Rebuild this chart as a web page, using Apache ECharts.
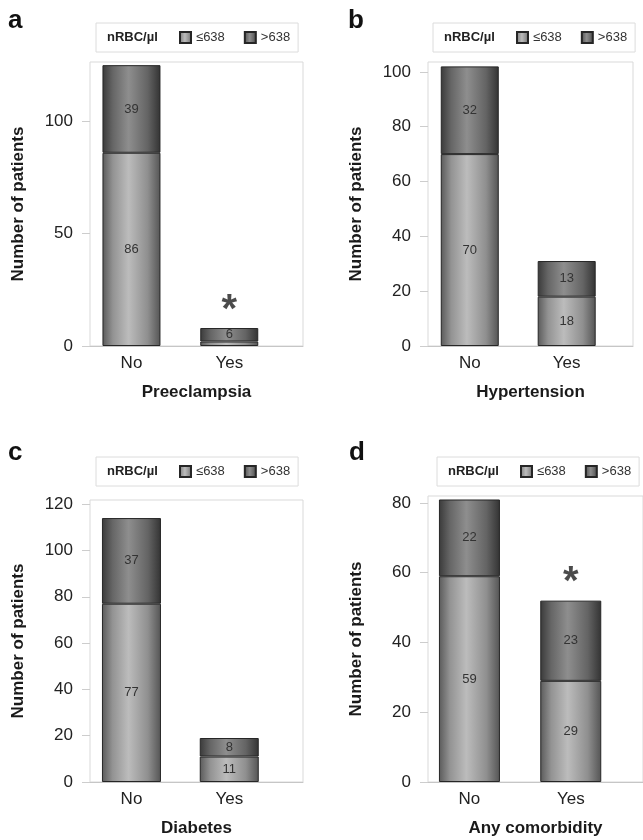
<!DOCTYPE html>
<html><head><meta charset="utf-8">
<script src="https://cdn.jsdelivr.net/npm/echarts@6/dist/echarts.min.js"></script>
<style>html,body{margin:0;padding:0;background:#fff}#c{width:643px;height:840px}</style>
</head><body><div id="c"></div>
<script>
// ---- data ----
const categories = ['No', 'Yes'];
const groupNames = ['≤638', '>638'];
const legendTitle = 'nRBC/µl';
const yAxisTitle = 'Number of patients';
const panelLetters = ['a', 'b', 'c', 'd'];
const panelNames = ['Preeclampsia', 'Hypertension', 'Diabetes', 'Any comorbidity'];

const preeclampsiaLow = [86, 2];
const preeclampsiaHigh = [39, 6];
const hypertensionLow = [70, 18];
const hypertensionHigh = [32, 13];
const diabetesLow = [77, 11];
const diabetesHigh = [37, 8];
const comorbidityLow = [59, 29];
const comorbidityHigh = [22, 23];

const yTicksA = [0, 50, 100];
const yTicksB = [0, 20, 40, 60, 80, 100];
const yTicksC = [0, 20, 40, 60, 80, 100, 120];
const yTicksD = [0, 20, 40, 60, 80];

const sigA = [false, true];
const sigB = [false, false];
const sigC = [false, false];
const sigD = [false, true];

const lowSets = [preeclampsiaLow, hypertensionLow, diabetesLow, comorbidityLow];
const highSets = [preeclampsiaHigh, hypertensionHigh, diabetesHigh, comorbidityHigh];
const tickSets = [yTicksA, yTicksB, yTicksC, yTicksD];
const sigSets = [sigA, sigB, sigC, sigD];

// ---- layout (positions / sizes only) ----
const layout = [
  {left: 90, top: 62, width: 213, height: 284, xMin: -0.424, xMax: 1.754, yMax: 126.4, barWidth: 58, lgLeft: 96, lgTop: 23, letX: 8, letY: 8},
  {left: 428, top: 62, width: 205, height: 284, xMin: -0.431, xMax: 1.684, yMax: 103.6, barWidth: 58, lgLeft: 433, lgTop: 23, letX: 348, letY: 8},
  {left: 90, top: 500, width: 213, height: 282, xMin: -0.424, xMax: 1.754, yMax: 121.8, barWidth: 59, lgLeft: 96, lgTop: 457, letX: 8, letY: 440},
  {left: 428, top: 496, width: 215, height: 286, xMin: -0.409, xMax: 1.713, yMax: 82, barWidth: 61, lgLeft: 437, lgTop: 457, letX: 349, letY: 440}
];

const FONT = 'Liberation Sans, Arial, Helvetica, sans-serif';

const lowFill = {type: 'linear', x: 0, y: 0, x2: 1, y2: 0, colorStops: [
  {offset: 0, color: '#5a5a5a'}, {offset: 0.18, color: '#939393'}, {offset: 0.45, color: '#bcbcbc'},
  {offset: 0.78, color: '#8f8f8f'}, {offset: 1, color: '#545454'}]};
const highFill = {type: 'linear', x: 0, y: 0, x2: 1, y2: 0, colorStops: [
  {offset: 0, color: '#3a3a3a'}, {offset: 0.18, color: '#666666'}, {offset: 0.45, color: '#8e8e8e'},
  {offset: 0.78, color: '#646464'}, {offset: 1, color: '#333333'}]};

const grids = [], xAxes = [], yAxes = [], series = [], legends = [], graphics = [];

layout.forEach((L, p) => {
  grids.push({left: L.left, top: L.top, width: L.width, height: L.height, show: true,
    borderColor: '#d9d9d9', borderWidth: 1, backgroundColor: 'transparent', containLabel: false});
  xAxes.push({type: 'value', gridIndex: p, min: L.xMin, max: L.xMax,
    axisLine: {show: true, onZero: false, lineStyle: {color: '#c6c6c6', width: 1}},
    axisTick: {show: false}, splitLine: {show: false},
    axisLabel: {customValues: categories.map((c, i) => i), formatter: v => categories[Math.round(v)],
      fontSize: 17, color: '#222', fontFamily: FONT, margin: 9},
    name: panelNames[p], nameLocation: 'middle', nameGap: 38,
    nameTextStyle: {fontSize: 17, fontWeight: 'bold', color: '#1a1a1a', fontFamily: FONT}});
  yAxes.push({type: 'value', gridIndex: p, min: 0, max: L.yMax,
    axisLine: {show: false, onZero: false},
    axisTick: {show: true, length: 8, customValues: tickSets[p], lineStyle: {color: '#cdcdcd'}},
    splitLine: {show: false},
    axisLabel: {customValues: tickSets[p], fontSize: 17, color: '#222', fontFamily: FONT, margin: 17},
    name: yAxisTitle, nameLocation: 'middle', nameGap: 63,
    nameTextStyle: {fontSize: 17, fontWeight: 'bold', color: '#1a1a1a', fontFamily: FONT}});

  const low = lowSets[p], high = highSets[p];
  const lbl = {show: true, position: 'inside', fontSize: 13, color: '#333', fontFamily: FONT,
    formatter: prm => (prm.value[0] >= 3 ? String(prm.value[0]) : '')};
  // value first, category index second -> the count dimension is the stacked one
  series.push({name: groupNames[0], type: 'bar', xAxisIndex: p, yAxisIndex: p, stack: 's' + p,
    barWidth: L.barWidth, encode: {x: 1, y: 0}, data: categories.map((c, i) => [low[i], i]),
    itemStyle: {color: lowFill, borderColor: '#262626', borderWidth: 1}, label: lbl});
  series.push({name: groupNames[1], type: 'bar', xAxisIndex: p, yAxisIndex: p, stack: 's' + p,
    barWidth: L.barWidth, encode: {x: 1, y: 0}, data: categories.map((c, i) => [high[i], i]),
    itemStyle: {color: highFill, borderColor: '#262626', borderWidth: 1}, label: lbl});
  const sigData = categories.map((c, i) => sigSets[p][i] ? [i, low[i] + high[i]] : null).filter(d => d);
  if (sigData.length) {
    series.push({name: 'sig' + p, type: 'scatter', xAxisIndex: p, yAxisIndex: p, data: sigData,
      symbolSize: 1, itemStyle: {color: 'rgba(0,0,0,0)'}, silent: true, z: 5,
      label: {show: true, position: 'top', distance: -3, formatter: '*', fontSize: 40, fontWeight: 'bold',
        color: '#1e1e1e', fontFamily: FONT}});
  }

  legends.push({data: groupNames, left: L.lgLeft, top: L.lgTop, orient: 'horizontal', icon: 'rect',
    itemWidth: 11, itemHeight: 11, itemGap: 19, padding: [8, 8, 8, 83],
    borderColor: '#dcdcdc', borderWidth: 1, backgroundColor: '#fff', selectedMode: false,
    textStyle: {fontSize: 13, color: '#333', fontFamily: FONT}});

  graphics.push({type: 'text', left: L.letX, top: L.letY, z: 10,
    style: {text: panelLetters[p], font: 'bold 26px ' + FONT, fill: '#111'}});
  graphics.push({type: 'text', left: L.lgLeft + 11, top: L.lgTop + 8, z: 10,
    style: {text: legendTitle, font: 'bold 13px ' + FONT, fill: '#222'}});
});

const chart = echarts.init(document.getElementById('c'), null, {renderer: 'canvas'});
chart.setOption({
  animation: false,
  backgroundColor: '#fff',
  textStyle: {fontFamily: FONT},
  grid: grids, xAxis: xAxes, yAxis: yAxes, series: series, legend: legends, graphic: graphics
});
</script></body></html>
